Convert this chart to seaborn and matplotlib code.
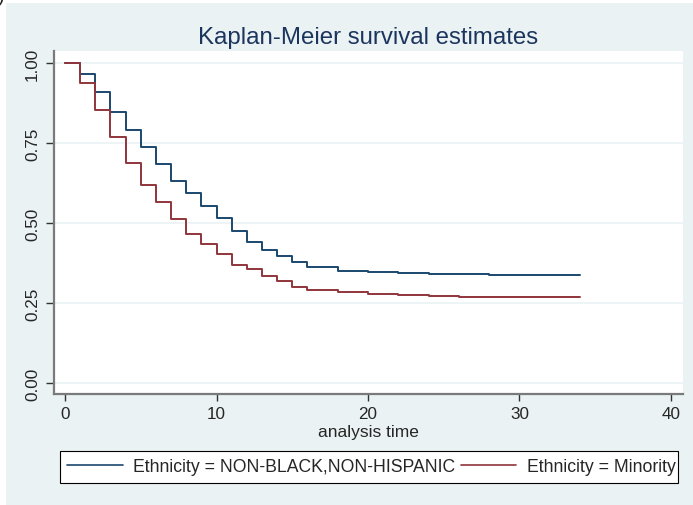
import pandas as pd
import matplotlib.pyplot as plt
import seaborn as sns
from matplotlib.patches import Rectangle

# Kaplan-Meier step values
times_white = [0, 1, 2, 3, 4, 5, 6, 7, 8, 9, 10, 11, 12, 13, 14, 15, 16, 18, 20, 22, 24, 26, 28, 34]
surv_white = [1.0, 0.967, 0.909, 0.846, 0.792, 0.737, 0.684, 0.632, 0.593, 0.553, 0.515, 0.476,
              0.442, 0.417, 0.398, 0.379, 0.362, 0.351, 0.346, 0.343, 0.341, 0.340, 0.339, 0.339]
times_minority = [0, 1, 2, 3, 4, 5, 6, 7, 8, 9, 10, 11, 12, 13, 14, 15, 16, 18, 20, 22, 24, 26, 28, 34]
surv_minority = [1.0, 0.936, 0.852, 0.768, 0.689, 0.620, 0.565, 0.513, 0.467, 0.434, 0.404, 0.370,
                 0.355, 0.335, 0.320, 0.301, 0.292, 0.284, 0.277, 0.274, 0.272, 0.270, 0.270, 0.270]
groups = ["Ethnicity = NON-BLACK,NON-HISPANIC", "Ethnicity = Minority"]
x_ticks = [0, 10, 20, 30, 40]
y_ticks = [0.0, 0.25, 0.5, 0.75, 1.0]
y_ticklabels = ["0.00", "0.25", "0.50", "0.75", "1.00"]

navy = "#1A476F"
maroon = "#90353B"
bluish = "#EAF2F3"

df = pd.concat([
    pd.DataFrame({"time": times_white, "surv": surv_white, "group": groups[0]}),
    pd.DataFrame({"time": times_minority, "surv": surv_minority, "group": groups[1]}),
])

sns.set_style("white")
plt.rcParams['font.family'] = ['Liberation Sans', 'DejaVu Sans']

W, H = 693, 506
fig = plt.figure(figsize=(6.93, 5.06), dpi=100)
fig.patch.set_facecolor("white")
fig.patches.append(Rectangle((6 / W, 0), 1 - 6 / W, (H - 4) / H,
                             transform=fig.transFigure, facecolor=bluish,
                             edgecolor="none", zorder=-5))
fig.text(-0.003, 1.004, ")", fontsize=14, ha="left", va="center")

ax = fig.add_axes([54 / W, (H - 395) / H, (683 - 54) / W, (395 - 52) / H])
ax.set_facecolor("white")

sns.lineplot(data=df, x="time", y="surv", hue="group", palette=[navy, maroon],
             drawstyle="steps-post", estimator=None, linewidth=1.4, legend=False, ax=ax)

ax.set_xlim(-0.73, 40.8)
ax.set_ylim(-0.034, 1.0375)
ax.set_xticks(x_ticks)
ax.set_yticks(y_ticks)
ax.set_yticklabels(y_ticklabels, rotation=90, va="center")
ax.tick_params(axis="both", direction="out", width=1, color="#333333",
               labelsize=12.3, left=True, bottom=True)
ax.tick_params(axis="x", length=5, pad=4)
ax.tick_params(axis="y", length=6, pad=4)
for y in y_ticks:
    ax.axhline(y, color=bluish, linewidth=1.2, zorder=0)

for side in ["top", "right"]:
    ax.spines[side].set_visible(False)
for side in ["left", "bottom"]:
    ax.spines[side].set_color("#7a7a7a")
    ax.spines[side].set_linewidth(1.6)

ax.set_xlabel("analysis time", fontsize=12.5, labelpad=2)
ax.set_ylabel("")
ax.set_title("Kaplan-Meier survival estimates", fontsize=17.3, color="#1C355E", pad=6)

# legend box drawn separately so the padding can be uneven like the reference
fig.patches.append(Rectangle((60 / W, (H - 484) / H), 618 / W, 32 / H,
                             transform=fig.transFigure, facecolor="white",
                             edgecolor="black", linewidth=0.8, zorder=1))
handles = [plt.Line2D([], [], color=navy, linewidth=1.2),
           plt.Line2D([], [], color=maroon, linewidth=1.2)]
leg = fig.legend(handles, groups, loc="center left", ncol=2,
                 bbox_to_anchor=(67 / W, (H - 468) / H),
                 fontsize=12.7, frameon=False, handlelength=3.15,
                 handletextpad=0.6, columnspacing=0.3, borderpad=0, borderaxespad=0)
leg.set_zorder(2)

fig.savefig("out.png", dpi=100)
